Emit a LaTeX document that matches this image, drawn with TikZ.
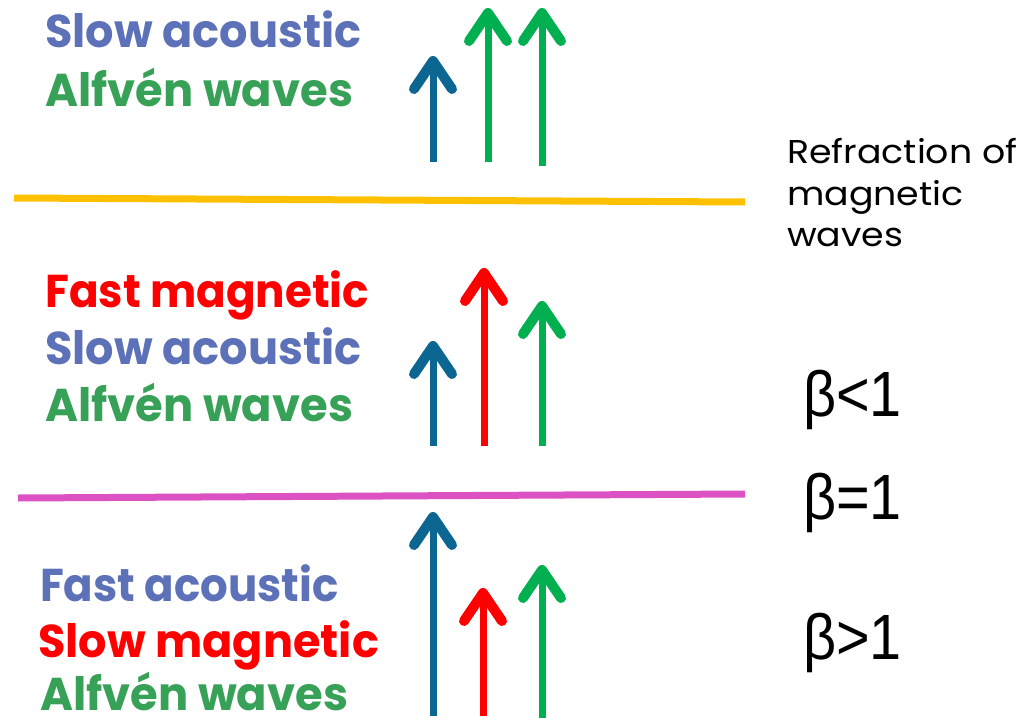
\documentclass[tikz,border=0pt]{standalone}
\usepackage{fontspec}
\setmainfont{Poppins}
\newfontfamily\betafont{Liberation Sans}
\usetikzlibrary{arrows.meta}
\definecolor{slowblue}{RGB}{92,113,183}
\definecolor{alfgreen}{RGB}{56,161,88}
\definecolor{arrblue}{RGB}{12,102,146}
\definecolor{arrgreen}{RGB}{0,176,80}
\definecolor{arrred}{RGB}{255,0,0}
\definecolor{lineyellow}{RGB}{255,192,0}
\definecolor{linepink}{RGB}{221,82,194}
\newcommand{\wx}[2]{\scalebox{#1}[1]{#2}}
\tikzset{
  wave/.style={anchor=base west, inner sep=0pt, font=\fontsize{46}{50}\selectfont\bfseries},
  note/.style={anchor=base west, inner sep=0pt, font=\fontsize{33}{38}\selectfont},
  betalbl/.style={anchor=base west, inner sep=0pt, font=\betafont\fontsize{64}{70}\selectfont},
  wavearrow/.style={line width=7pt, -{Straight Barb[length=28pt,width=38pt,line width=10pt,round]}},
  boundary/.style={line width=7pt}
}
\begin{document}
\begin{tikzpicture}[x=1pt,y=-1pt]
\useasboundingbox (0,0) rectangle (1028,720);
% boundaries
\coordinate (y1) at (14,198);
\coordinate (y2) at (745,202);
\draw[boundary, lineyellow] (y1) -- (y2);
\coordinate (p1) at (18,498);
\coordinate (p2) at (745,494);
\draw[boundary, linepink] (p1) -- (p2);
% top group texts
\node[wave, text=slowblue] (t1) at (45,47) {\wx{0.97}{Slow acoustic}};
\node[wave, text=alfgreen] (t2) at (45,106) {\wx{0.975}{Alfvén waves}};
% middle group texts
\node[wave, text=arrred] (m1) at (45,307) {\wx{0.95}{Fast magnetic}};
\node[wave, text=slowblue] (m2) at (45,364) {\wx{0.97}{Slow acoustic}};
\node[wave, text=alfgreen] (m3) at (45,421) {\wx{0.975}{Alfvén waves}};
% bottom group texts
\node[wave, text=slowblue] (b1) at (40,601) {\wx{0.945}{Fast acoustic}};
\node[wave, text=arrred] (b2) at (38,657) {\wx{0.97}{Slow magnetic}};
\node[wave, text=alfgreen] (b3) at (40,710) {\wx{0.975}{Alfvén waves}};
% right notes
\node[note] (r1) at (787,163) {\wx{1.1}{Refraction of}};
\node[note] (r2) at (787,205) {\wx{1.1}{magnetic}};
\node[note] (r3) at (787,246) {\wx{1.1}{waves}};
\node[betalbl] (be1) at (803,416) {\wx{0.9}{β<1}};
\node[betalbl] (be2) at (803,519) {\wx{0.9}{β=1}};
\node[betalbl] (be3) at (803,659) {\wx{0.9}{β>1}};
% top arrows
\coordinate (ta1) at (433,162); \coordinate (ta1e) at (433,56);
\coordinate (ta2) at (488,162); \coordinate (ta2e) at (488,8);
\coordinate (ta3) at (542,166); \coordinate (ta3e) at (542,8);
\draw[wavearrow, arrblue] (ta1) -- (ta1e);
\draw[wavearrow, arrgreen] (ta2) -- (ta2e);
\draw[wavearrow, arrgreen] (ta3) -- (ta3e);
% middle arrows
\coordinate (ma1) at (433,446); \coordinate (ma1e) at (433,341);
\coordinate (ma2) at (484,446); \coordinate (ma2e) at (484,268);
\coordinate (ma3) at (542,446); \coordinate (ma3e) at (542,301);
\draw[wavearrow, arrblue] (ma1) -- (ma1e);
\draw[wavearrow, arrred] (ma2) -- (ma2e);
\draw[wavearrow, arrgreen] (ma3) -- (ma3e);
% bottom arrows
\coordinate (ba1) at (433,716); \coordinate (ba1e) at (433,512);
\coordinate (ba2) at (483,716); \coordinate (ba2e) at (483,588);
\coordinate (ba3) at (542,718); \coordinate (ba3e) at (542,565);
\draw[wavearrow, arrblue] (ba1) -- (ba1e);
\draw[wavearrow, arrred] (ba2) -- (ba2e);
\draw[wavearrow, arrgreen] (ba3) -- (ba3e);
\end{tikzpicture}
\end{document}
